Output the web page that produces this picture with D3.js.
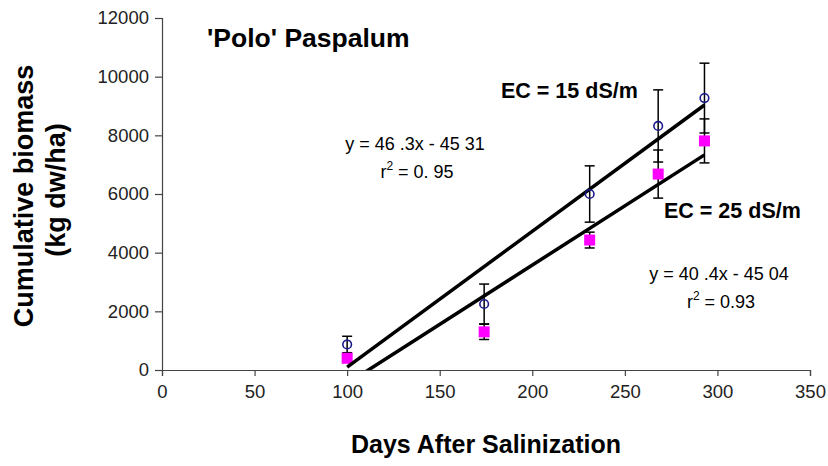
<!DOCTYPE html>
<html>
<head>
<meta charset="utf-8">
<script src="https://cdn.jsdelivr.net/npm/d3@7"></script>
<style>
  body { margin: 0; background: #fff; }
  text { font-family: Arial, "Liberation Sans", sans-serif; }
</style>
</head>
<body>
<div id="main"></div>
<script>
'use strict';

// values
var days = [100, 174, 231, 268, 293];
var ec15 = [870, 2250, 6000, 8320, 9270];
var ec15Err = [280, 680, 960, 1230, 1190];
var ec25 = [400, 1300, 4430, 6680, 7810];
var ec25Err = [110, 260, 270, 820, 750];

// regression lines as printed on the chart
var slopes = [46.3, 40.4];
var intercepts = [-4531, -4504];

var xTicks = [0, 50, 100, 150, 200, 250, 300, 350];
var yTicks = [0, 2000, 4000, 6000, 8000, 10000, 12000];

var width = 828;
var height = 466;
var axisColor = '#444';
var blue = '#1a1a8c';
var pink = '#ff00ff';

var x = d3.scaleLinear().domain([0, 350]).range([162, 810]);
var y = d3.scaleLinear().domain([0, 12000]).range([370, 18]);

var svg = d3.select('#main').append('svg')
	.attr('width', width)
	.attr('height', height)
	.style('background-color', 'white');

svg.append('defs').append('clipPath').attr('id', 'plot')
	.append('rect')
	.attr('x', x(0)).attr('y', y(12000))
	.attr('width', x(350) - x(0)).attr('height', y(0) - y(12000));

// axes
var xAxis = svg.append('g')
	.attr('transform', 'translate(0,' + y(0) + ')')
	.call(d3.axisBottom(x).tickValues(xTicks).tickSize(6).tickPadding(9));
var yAxis = svg.append('g')
	.attr('transform', 'translate(' + x(0) + ',0)')
	.call(d3.axisLeft(y).tickValues(yTicks).tickSize(7).tickPadding(6).tickFormat(d3.format('d')));

[xAxis, yAxis].forEach(function (a) {
	a.select('.domain').attr('stroke', axisColor).attr('stroke-width', 1.2);
	a.selectAll('.tick line').attr('stroke', axisColor).attr('stroke-width', 1.2);
	a.selectAll('.tick text')
		.attr('font-size', '18.5px')
		.attr('fill', '#222')
		.style('font-family', 'Arial, "Liberation Sans", sans-serif');
});

// error bars
function errorBars(vals, errs) {
	var g = svg.append('g').attr('stroke', 'black').attr('stroke-width', 1.5);
	days.forEach(function (d, i) {
		var cx = x(d);
		var top = y(vals[i] + errs[i]);
		var bot = y(vals[i] - errs[i]);
		g.append('line').attr('x1', cx).attr('x2', cx).attr('y1', top).attr('y2', bot);
		g.append('line').attr('x1', cx - 5).attr('x2', cx + 5).attr('y1', top).attr('y2', top);
		g.append('line').attr('x1', cx - 5).attr('x2', cx + 5).attr('y1', bot).attr('y2', bot);
	});
}
errorBars(ec25, ec25Err);
errorBars(ec15, ec15Err);

// squares (EC = 25)
svg.append('g').selectAll('rect').data(days).enter().append('rect')
	.attr('x', function (d) { return x(d) - 5.5; })
	.attr('y', function (d, i) { return y(ec25[i]) - 5.5; })
	.attr('width', 11)
	.attr('height', 11)
	.attr('fill', pink);

// trend lines
var lineGroup = svg.append('g').attr('clip-path', 'url(#plot)');
slopes.forEach(function (m, i) {
	var x0 = d3.min(days);
	var x1 = d3.max(days);
	lineGroup.append('line')
		.attr('x1', x(x0)).attr('y1', y(m * x0 + intercepts[i]))
		.attr('x2', x(x1)).attr('y2', y(m * x1 + intercepts[i]))
		.attr('stroke', 'black')
		.attr('stroke-width', 3.5);
});

// circles (EC = 15)
svg.append('g').selectAll('circle').data(days).enter().append('circle')
	.attr('cx', function (d) { return x(d); })
	.attr('cy', function (d, i) { return y(ec15[i]); })
	.attr('r', 4.3)
	.attr('fill', 'none')
	.attr('stroke', blue)
	.attr('stroke-width', 1.6);

// titles and labels
svg.append('text')
	.attr('x', 207).attr('y', 47)
	.attr('font-size', '26.5px').attr('font-weight', 'bold')
	.text("'Polo' Paspalum");

svg.append('text')
	.attr('x', 501).attr('y', 98)
	.attr('font-size', '21.5px').attr('font-weight', 'bold')
	.text('EC = 15 dS/m');

svg.append('text')
	.attr('x', 664).attr('y', 218)
	.attr('font-size', '21.5px').attr('font-weight', 'bold')
	.text('EC = 25 dS/m');

function equation(cx, yb, eq, r2) {
	svg.append('text')
		.attr('x', cx).attr('y', yb)
		.attr('text-anchor', 'middle')
		.attr('font-size', '18px')
		.text(eq);
	var t = svg.append('text')
		.attr('x', cx + 2).attr('y', yb + 28)
		.attr('text-anchor', 'middle')
		.attr('font-size', '18px');
	t.append('tspan').text('r');
	t.append('tspan').attr('font-size', '12px').attr('dy', -8).text('2');
	t.append('tspan').attr('dy', 8).text(' = ' + r2);
}
equation(415, 150, 'y = 46 .3x - 45 31', '0. 95');
equation(719, 280, 'y = 40 .4x - 45 04', '0.93');

svg.append('text')
	.attr('transform', 'translate(33,196) rotate(-90)')
	.attr('text-anchor', 'middle')
	.attr('font-size', '27px').attr('font-weight', 'bold')
	.text('Cumulative biomass');
svg.append('text')
	.attr('transform', 'translate(65,190) rotate(-90)')
	.attr('text-anchor', 'middle')
	.attr('font-size', '27px').attr('font-weight', 'bold')
	.text('(kg dw/ha)');

svg.append('text')
	.attr('x', 486).attr('y', 453)
	.attr('text-anchor', 'middle')
	.attr('font-size', '25px').attr('font-weight', 'bold')
	.text('Days After Salinization');
</script>
</body>
</html>
